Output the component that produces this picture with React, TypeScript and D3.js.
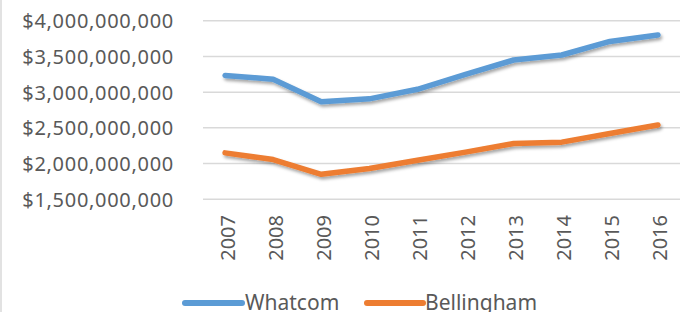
import React from "react";
import * as d3 from "d3";

const years = ["2007","2008","2009","2010","2011","2012","2013","2014","2015","2016"];
const whatcom = [3.234e9, 3.18e9, 2.864e9, 2.906e9, 3.04e9, 3.25e9, 3.45e9, 3.52e9, 3.71e9, 3.80e9];
const bellingham = [2.15e9, 2.056e9, 1.85e9, 1.93e9, 2.046e9, 2.16e9, 2.28e9, 2.30e9, 2.42e9, 2.54e9];
const yTicks = [1.5e9, 2e9, 2.5e9, 3e9, 3.5e9, 4e9];
const seriesNames = ["Whatcom", "Bellingham"];
const colors = ["#5B9BD5", "#ED7D31"];

const W = 680, H = 312;
const FONT = "'Noto Sans', sans-serif";

export default function App() {
  const x = d3.scaleBand<string>().domain(years).range([201, 682]);
  const y = d3.scaleLinear().domain([1.5e9, 4e9]).range([199.3, 20.7]);
  const fmt = (v: number) => "$" + d3.format(",")(v);
  const line = d3.line<number>()
    .x((_, i) => (x(years[i]) as number) + x.bandwidth() / 2)
    .y((d) => y(d));
  const series = [whatcom, bellingham];

  const legendItems = [
    { x0: 185, x1: 242, tx: 245 },
    { x0: 367, x1: 423, tx: 425 },
  ];

  return (
    <svg width={W} height={H} style={{ position: "absolute", left: 0, top: 0, background: "#fff" }} fontFamily={FONT}>
      <defs>
        <filter id="shadow" x="-5%" y="-20%" width="110%" height="160%">
          <feDropShadow dx="1.5" dy="2.5" stdDeviation="1.5" floodColor="#000" floodOpacity="0.35" />
        </filter>
      </defs>
      <rect x={0} y={0} width={W} height={H} fill="#fff" />
      <line x1={1} x2={1} y1={0} y2={H} stroke="#D9D9D9" strokeWidth={1.5} />
      {yTicks.map((t) => (
        <g key={t}>
          <line x1={203} x2={W} y1={y(t)} y2={y(t)} stroke="#D9D9D9" strokeWidth={1.5} />
          <text x={174} y={y(t)} textAnchor="end" dominantBaseline="central" fontSize={20} letterSpacing={0.7} fill="#595959">
            {fmt(t)}
          </text>
        </g>
      ))}
      {years.map((yr) => {
        const cx = (x(yr) as number) + x.bandwidth() / 2 + 2;
        return (
          <text key={yr} transform={`translate(${cx},215) rotate(-90)`} textAnchor="end" dominantBaseline="central" fontSize={20} fill="#595959">
            {yr}
          </text>
        );
      })}
      {series.map((s, i) => (
        <path key={i} d={line(s) as string} fill="none" stroke={colors[i]} strokeWidth={5.5} strokeLinecap="round" strokeLinejoin="round" filter="url(#shadow)" />
      ))}
      {legendItems.map((l, i) => (
        <g key={i}>
          <line x1={l.x0} x2={l.x1} y1={303} y2={303} stroke={colors[i]} strokeWidth={6} strokeLinecap="round" />
          <text x={l.tx} y={309.5} fontSize={21} fill="#595959">{seriesNames[i]}</text>
        </g>
      ))}
    </svg>
  );
}
